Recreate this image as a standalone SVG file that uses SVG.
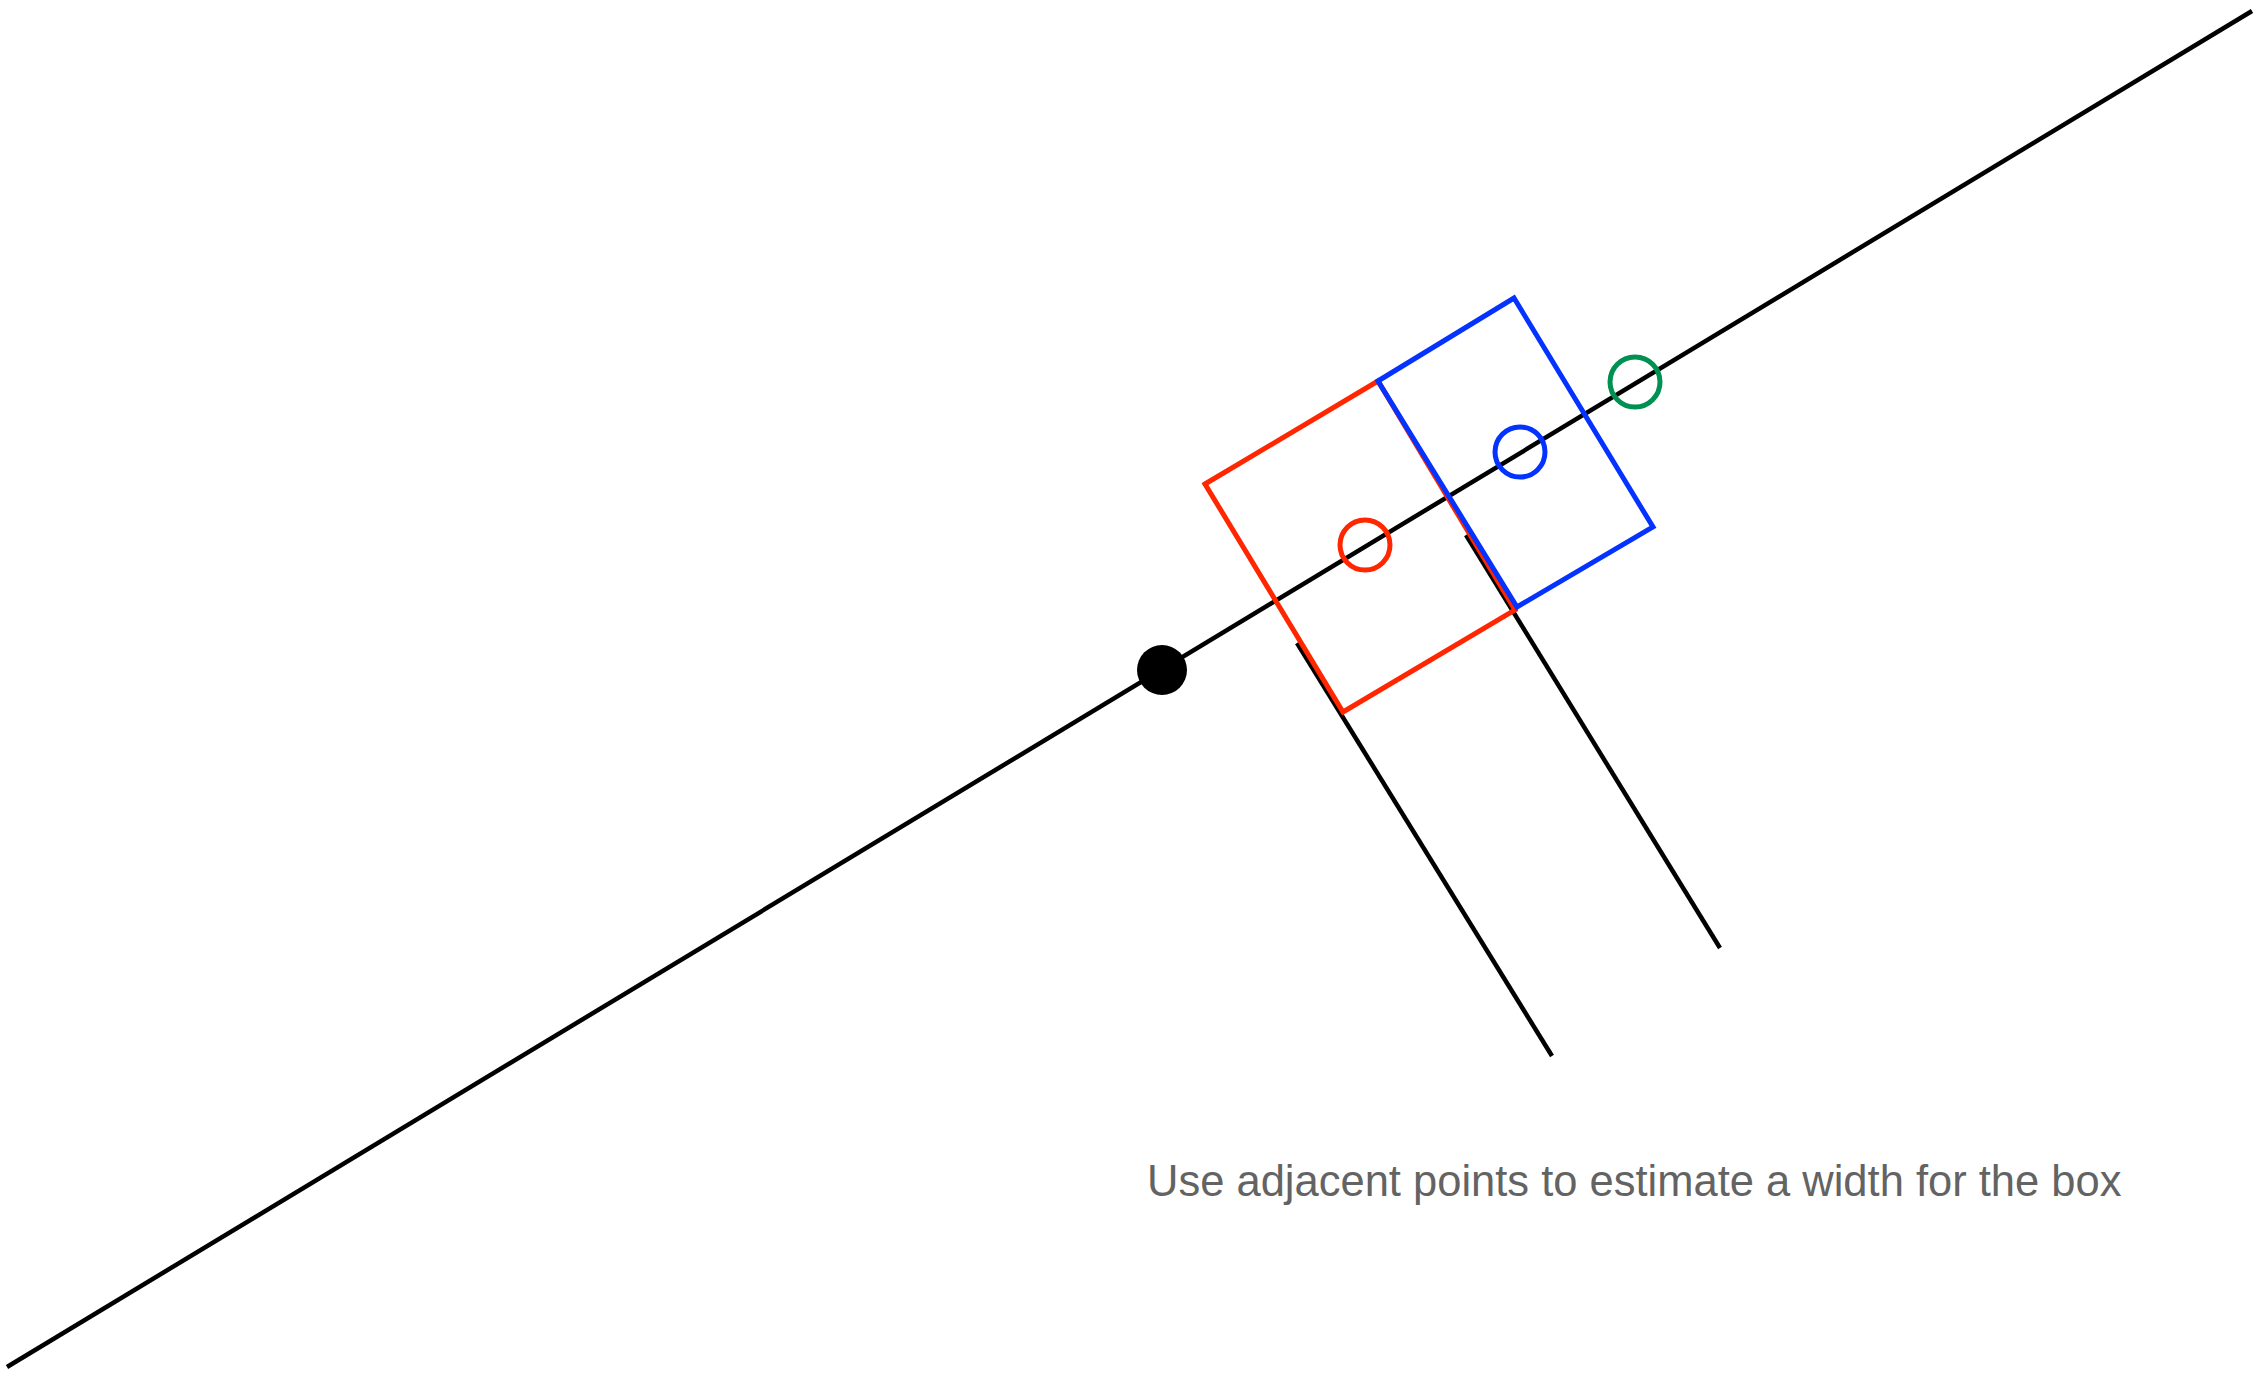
<svg xmlns="http://www.w3.org/2000/svg" width="2255" height="1373" viewBox="0 0 2255 1373">
<style>
.ln{stroke:#000;stroke-width:4.5;fill:none}
.red{stroke:#FF2600;stroke-width:5;fill:none}
.blue{stroke:#0433FF;stroke-width:5;fill:none}
.green{stroke:#009051;stroke-width:5;fill:none}
.lbl{font-family:"Liberation Sans",Arial,sans-serif;font-size:43.5px;fill:#636363}
</style>
<rect width="2255" height="1373" fill="#fff"/>
<g id="connectors">
<line class="ln" x1="7" y1="1367" x2="2252" y2="11"/>
<line class="ln" x1="1297" y1="643" x2="1552" y2="1056"/>
<line class="ln" x1="1466" y1="535" x2="1720" y2="948"/>
</g>
<g id="anchor-point">
<circle cx="1162" cy="670" r="25" fill="#000"/>
</g>
<g id="red-box">
<polygon class="red" points="1205,484 1378,381 1515,610 1343,712"/>
<circle class="red" cx="1365" cy="545" r="25"/>
</g>
<g id="blue-box">
<polygon class="blue" points="1378,381 1514,298 1653,527 1517,607"/>
<circle class="blue" cx="1520" cy="452" r="25"/>
</g>
<g id="green-point">
<circle class="green" cx="1635" cy="382" r="25"/>
</g>
<g id="caption">
<text class="lbl" x="1147" y="1196">Use adjacent points to estimate a width for the box</text>
</g>
</svg>
